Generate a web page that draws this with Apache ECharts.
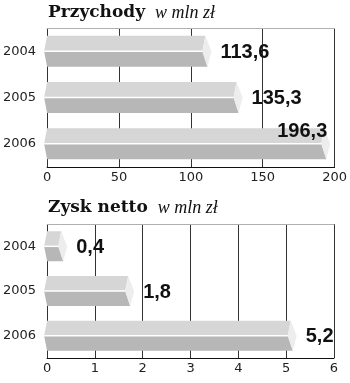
<!DOCTYPE html>
<html><head><meta charset="utf-8">
<script src="https://cdn.jsdelivr.net/npm/echarts@6/dist/echarts.min.js"></script>
<style>html,body{margin:0;padding:0;background:#fff}#c{width:350px;height:383px}</style>
</head><body><div id="c"></div>
<script>
var years = ['2004', '2005', '2006'];
var revenue = [113.6, 135.3, 196.3];
var profit = [0.4, 1.8, 5.2];
var revenueTicks = [0, 50, 100, 150, 200];
var profitTicks = [0, 1, 2, 3, 4, 5, 6];
var revenueLabelPos = ['right', 'right', 'insideTop'];
var profitLabelPos = ['right', 'right', 'right'];
var revenueTitle = 'Przychody';
var profitTitle = 'Zysk netto';
var unit = 'w mln zł';

function fmt(v) { return String(v).replace('.', ','); }

var valueFont = 'bold 20px "Liberation Sans", Arial, sans-serif';

function makeRender(labelPos) {
  return function (params, api) {
    var v = api.value(0), idx = api.value(1);
    var p0 = api.coord([0, idx]);
    var p1 = api.coord([v, idx]);
    var band = api.size([0, 1])[1];
    var h = band * 0.67;
    var yc = p0[1], top = yc - h / 2, bot = yc + h / 2;
    var x0 = p0[0], x1 = p1[0];
    var xe = x1 - 5;
    if (xe < x0 + 4) xe = x0 + 4;
    var children = [
      { type: 'polygon', shape: { points: [[x0, top], [xe, top], [xe - 3, yc], [x0 - 3, yc]] }, style: { fill: '#d6d6d6' } },
      { type: 'polygon', shape: { points: [[x0 - 3, yc], [xe - 3, yc], [xe + 2, bot], [x0, bot]] }, style: { fill: '#b7b7b7' } },
      { type: 'polygon', shape: { points: [[xe, top], [x1 + 1, yc], [xe + 2, bot], [xe - 3, yc]] }, style: { fill: '#ededed' } },
      { type: 'line', shape: { x1: x0 - 3, y1: yc, x2: xe - 3, y2: yc }, style: { stroke: '#ffffff', lineWidth: 1.5 } }
    ];
    var pos = labelPos[params.dataIndex];
    var txt;
    if (pos === 'insideTop') {
      txt = { type: 'text', style: { text: fmt(v), x: x1 - 2, y: yc - 12, align: 'right', verticalAlign: 'middle', font: valueFont, fill: '#111' } };
    } else {
      txt = { type: 'text', style: { text: fmt(v), x: x1 + 10, y: yc + 1, align: 'left', verticalAlign: 'middle', font: valueFont, fill: '#111' } };
    }
    children.push(txt);
    return { type: 'group', children: children };
  };
}

function titleRich(t) {
  return {
    text: '{a|' + t + '}  {b|' + unit + '}',
    textStyle: {
      rich: {
        a: { fontFamily: '"DejaVu Serif", serif', fontWeight: 'bold', fontSize: 17, color: '#111' },
        b: { fontFamily: '"Liberation Serif", serif', fontStyle: 'italic', fontWeight: 'normal', fontSize: 18, color: '#111' }
      }
    }
  };
}

var t1 = titleRich(revenueTitle); t1.left = 48; t1.top = 4; t1.padding = 0;
var t2 = titleRich(profitTitle); t2.left = 48; t2.top = 199; t2.padding = 0;

var axisLabelStyle = { fontFamily: '"DejaVu Sans", sans-serif', fontSize: 13, color: '#222' };

function xAx(gi, ticks) {
  return {
    type: 'value', gridIndex: gi, min: ticks[0], max: ticks[ticks.length - 1], interval: ticks[1] - ticks[0],
    axisLine: { show: true, lineStyle: { color: '#111', width: 1 } },
    axisTick: { show: false },
    axisLabel: Object.assign({ margin: 4 }, axisLabelStyle),
    splitLine: { show: true, lineStyle: { color: '#333', width: 1 } }
  };
}
function xTopAx(gi, ticks) {
  return {
    type: 'value', gridIndex: gi, position: 'top', min: ticks[0], max: ticks[ticks.length - 1], interval: ticks[1] - ticks[0],
    axisLine: { show: true, lineStyle: { color: '#b0b0b0', width: 1 } },
    axisTick: { show: false }, axisLabel: { show: false }, splitLine: { show: false }
  };
}
function yAx(gi) {
  return {
    type: 'category', gridIndex: gi, data: years, inverse: true,
    axisLine: { show: false }, axisTick: { show: false },
    axisLabel: Object.assign({ margin: 11 }, axisLabelStyle, { fontSize: 13 }),
    splitLine: { show: false }
  };
}

var chart = echarts.init(document.getElementById('c'), null, { renderer: 'canvas' });
chart.setOption({
  animation: false,
  backgroundColor: '#fff',
  title: [t1, t2],
  grid: [
    { left: 46, right: 15, top: 28, height: 139 },
    { left: 46, right: 16, top: 224, height: 134 }
  ],
  xAxis: [xAx(0, revenueTicks), xAx(1, profitTicks), xTopAx(0, revenueTicks), xTopAx(1, profitTicks)],
  yAxis: [yAx(0), yAx(1)],
  series: [
    { type: 'custom', xAxisIndex: 0, yAxisIndex: 0, renderItem: makeRender(revenueLabelPos),
      encode: { x: 0, y: 1 }, data: revenue.map(function (v, i) { return [v, i]; }), clip: false },
    { type: 'custom', xAxisIndex: 1, yAxisIndex: 1, renderItem: makeRender(profitLabelPos),
      encode: { x: 0, y: 1 }, data: profit.map(function (v, i) { return [v, i]; }), clip: false }
  ]
});
</script></body></html>
